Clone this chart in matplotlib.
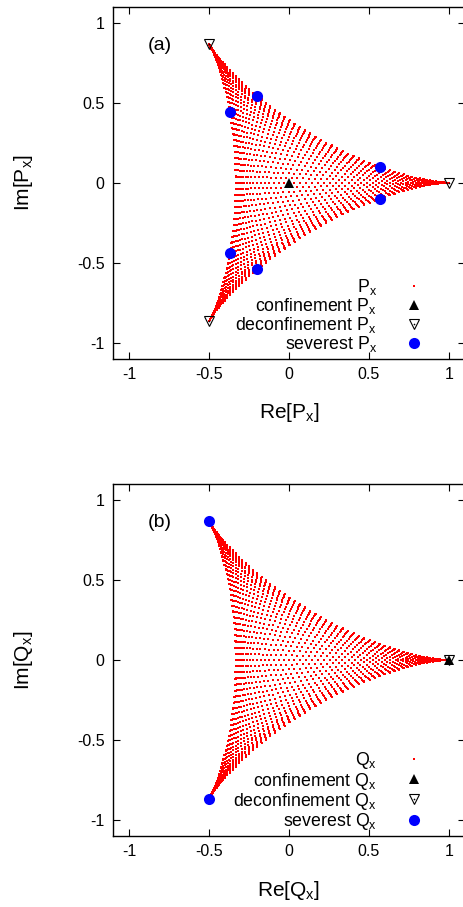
import matplotlib.pyplot as plt
import numpy as np
from matplotlib.lines import Line2D
from matplotlib.legend_handler import HandlerTuple

plt.rcParams['font.family'] = ['Liberation Sans', 'DejaVu Sans']
plt.rcParams['mathtext.fontset'] = 'custom'
plt.rcParams['mathtext.rm'] = 'Liberation Sans'
plt.rcParams['axes.unicode_minus'] = False

# phases of the diagonal SU(3) link, theta3 = -(theta1 + theta2)
n_phase = 108
theta = np.linspace(0, 2 * np.pi, n_phase, endpoint=False)

# special points (Re, Im)
conf_a = [(0.0, 0.0)]
deconf_a = [(1.0, 0.0), (-0.5, 0.866), (-0.5, -0.866)]
severest_a = [(0.57, 0.10), (0.57, -0.10), (-0.20, 0.54), (-0.20, -0.54),
              (-0.37, 0.44), (-0.37, -0.44)]

conf_b = [(1.0, 0.0)]
deconf_b = [(1.0, 0.0)]
severest_b = [(-0.5, 0.866), (-0.5, -0.866)]

ticks = [-1, -0.5, 0, 0.5, 1]
tick_labels = ['-1', '-0.5', '0', '0.5', '1']

t1, t2 = np.meshgrid(theta, theta)
loop = (np.exp(1j * t1) + np.exp(1j * t2) + np.exp(-1j * (t1 + t2))) / 3.0

W, H = 464, 907
fig = plt.figure(figsize=(W / 100, H / 100), dpi=100)

panels = [
    ('P', '(a)', conf_a, deconf_a, severest_a, 358.7),
    ('Q', '(b)', conf_b, deconf_b, severest_b, 836.0),
]

for sym, tag, conf, deconf, sev, bottom_px in panels:
    ax = fig.add_axes([113 / W, 1 - bottom_px / H, 352 / W, 352 / H])
    name = r'$\mathregular{%s_x}$' % sym

    ax.plot(loop.real.ravel(), loop.imag.ravel(), ls='none', marker='s',
            ms=2.0, mew=0, color='red')
    dx, dy = zip(*deconf)
    ax.plot(dx, dy, ls='none', marker='v', ms=7, mfc='none', mec='black', mew=0.8)
    ax.plot(dx, dy, ls='none', marker='o', ms=1.2, color='black', mew=0)
    cx, cy = zip(*conf)
    ax.plot(cx, cy, ls='none', marker='^', ms=6.5, color='black', mew=0)
    sx, sy = zip(*sev)
    ax.plot(sx, sy, ls='none', marker='o', ms=8, color='#0000ff', mew=0)

    ax.set_xlim(-1.1, 1.1)
    ax.set_ylim(-1.1, 1.1)
    ax.set_xticks(ticks)
    ax.set_xticklabels(tick_labels)
    ax.set_yticks(ticks)
    ax.set_yticklabels(tick_labels)
    ax.tick_params(direction='in', length=5, width=0.8, top=True, right=True,
                   labelsize=11.5, pad=6)
    for s in ax.spines.values():
        s.set_linewidth(1.0)

    ax.set_xlabel('Re[' + name + ']', fontsize=15, labelpad=14)
    ax.set_ylabel('Im[' + name + ']', fontsize=15, labelpad=30)
    ax.text(-0.88, 0.86, tag, fontsize=14, va='center', ha='left')

    h_dot = Line2D([], [], ls='none', marker='s', ms=1.5, mew=0, color='red')
    h_conf = Line2D([], [], ls='none', marker='^', ms=6.5, color='black', mew=0)
    h_tri = Line2D([], [], ls='none', marker='v', ms=7, mfc='none', mec='black', mew=0.8)
    h_c = Line2D([], [], ls='none', marker='o', ms=1.2, color='black', mew=0)
    h_sev = Line2D([], [], ls='none', marker='o', ms=8, color='#0000ff', mew=0)
    ax.legend([h_dot, h_conf, (h_tri, h_c), h_sev],
              [name, 'confinement ' + name, 'deconfinement ' + name, 'severest ' + name],
              handler_map={tuple: HandlerTuple(ndivide=1, pad=0)},
              loc='lower right', bbox_to_anchor=(0.881, 0.012), borderaxespad=0,
              borderpad=0, frameon=False, markerfirst=False, fontsize=12.8,
              handlelength=1.0, handletextpad=1.6, labelspacing=-0.05)

fig.savefig('out.png', dpi=100)
